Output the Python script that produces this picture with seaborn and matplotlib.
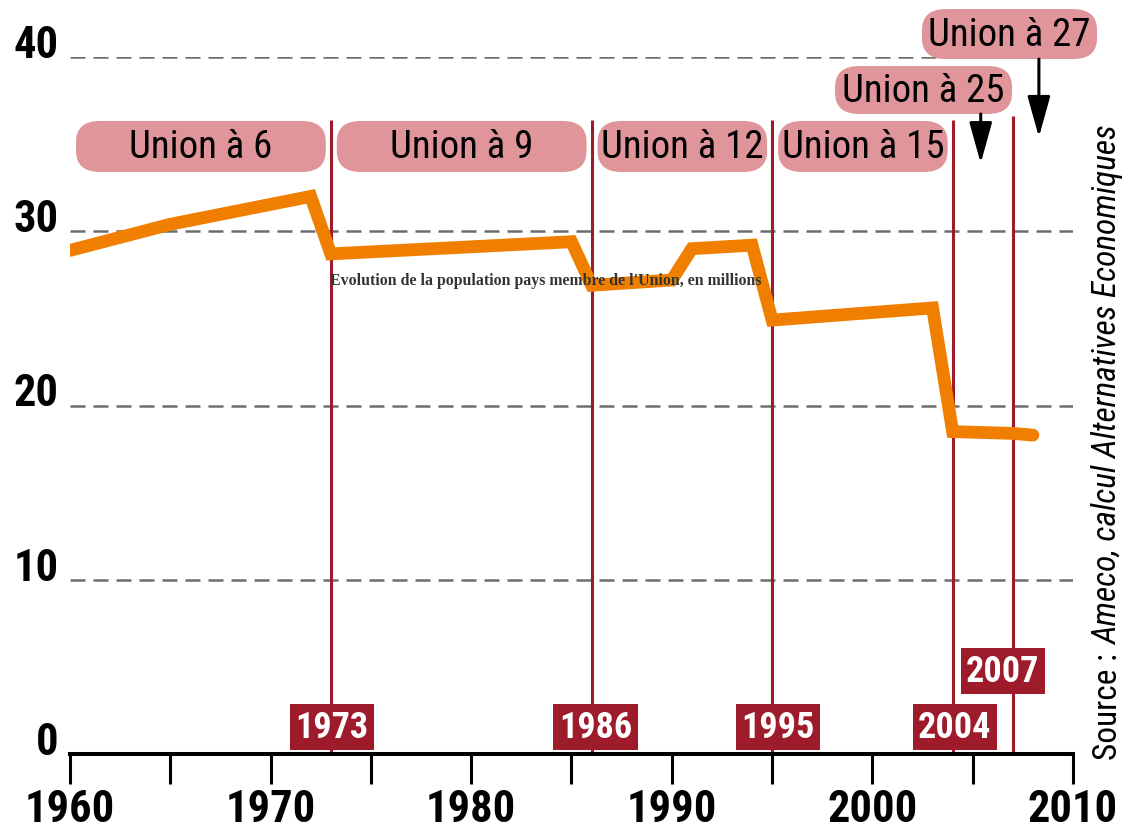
import matplotlib
matplotlib.use('Agg')
import matplotlib.pyplot as plt
import seaborn as sns
from matplotlib import font_manager
from matplotlib.patches import FancyBboxPatch, Rectangle
from matplotlib.ticker import MultipleLocator

# Population of the average EU member state, in millions
years = [1960, 1965, 1972, 1973, 1985, 1986, 1990, 1991, 1994, 1995, 2003, 2004, 2007, 2008]
population = [28.9, 30.4, 32.0, 28.7, 29.4, 26.9, 27.2, 29.0, 29.2, 24.9, 25.6, 18.5, 18.4, 18.3]

# Enlargements and the union size that follows
enlargement_years = [1973, 1986, 1995, 2004, 2007]
period_starts = [1960, 1973, 1986, 1995, 2004, 2007]
union_labels = ['Union à 6', 'Union à 9', 'Union à 12', 'Union à 15', 'Union à 25', 'Union à 27']

y_ticks = [0, 10, 20, 30, 40]
x_labels = [1960, 1970, 1980, 1990, 2000, 2010]

title = "Evolution de la population pays membre de l'Union, en millions"
source_plain = 'Source : '
source_italic = 'Ameco, calcul Alternatives Economiques'


def pick_font(names):
    for n in names:
        try:
            font_manager.findfont(n, fallback_to_default=False)
            return n
        except ValueError:
            pass
    return 'DejaVu Sans'


sns.set_theme(style='white')
narrow = pick_font(['Liberation Sans Narrow', 'Arial Narrow', 'Roboto Condensed', 'DejaVu Sans'])
plt.rcParams['font.family'] = [narrow, 'DejaVu Sans']
plt.rcParams['text.color'] = 'black'
plt.rcParams['xtick.color'] = 'black'
plt.rcParams['ytick.color'] = 'black'

RED = '#9e1b2c'
PINK = '#e0959a'
ORANGE = '#f07f00'

fig = plt.figure(figsize=(11.24, 8.29), dpi=100)
ax = fig.add_axes([70 / 1124, 74 / 829, 1003 / 1124, 697 / 829])
ax.set_xlim(1960, 2010)
ax.set_ylim(0, 40)
ax.set_axisbelow(True)

# main line
sns.lineplot(x=years, y=population, ax=ax, color=ORANGE, lw=9.2,
             solid_capstyle='round', solid_joinstyle='miter', zorder=3)

# enlargement markers
tops = [36.4, 36.4, 36.4, 36.4, 36.6]
ax.vlines(enlargement_years, 0, tops, color=RED, lw=2.2, zorder=2)

# grid / axes
ax.set_yticks(y_ticks)
ax.set_yticklabels([str(v) for v in y_ticks], fontsize=32, fontweight='bold', color='black')
for lbl in ax.get_yticklabels():
    lbl.set_va('baseline')
ax.tick_params(axis='y', length=0, pad=8)
ax.grid(axis='y', color='#6e6e6e', lw=1.8, linestyle=(0, (6, 3.2)))
ax.grid(axis='x', visible=False)

ax.xaxis.set_major_locator(MultipleLocator(10))
ax.xaxis.set_minor_locator(MultipleLocator(5))
ax.set_xticks(x_labels)
ax.set_xticklabels([str(v) for v in x_labels], fontsize=32, fontweight='bold', color='black')
ax.tick_params(axis='x', which='both', direction='out', length=21.6, width=2.2,
               color='black', pad=3, bottom=True)
for side in ['top', 'right', 'left']:
    ax.spines[side].set_visible(False)
ax.spines['bottom'].set_linewidth(2.9)
ax.spines['bottom'].set_color('black')
ax.set_xlabel('')
ax.set_ylabel('')

# union size boxes, first row spans each period
for i in range(4):
    x0 = period_starts[i] + 0.3
    x1 = period_starts[i + 1] - 0.25
    ax.add_patch(FancyBboxPatch((x0, 33.4), x1 - x0, 2.93,
                                boxstyle='round,pad=0,rounding_size=1.2',
                                fc=PINK, ec='none', zorder=4, clip_on=False))
    ax.text((x0 + x1) / 2, 34.87, union_labels[i], ha='center', va='center',
            fontsize=28, color='black', zorder=5)

# later unions placed above
upper = [(1998.14, 2006.96, 36.73, 39.48, 2005.4, 33.9),
         (2002.47, 2011.2, 39.88, 42.75, 2008.3, 35.4)]
for lbl, (x0, x1, y0, y1, ax_x, ax_y) in zip(union_labels[4:], upper):
    ax.add_patch(FancyBboxPatch((x0, y0), x1 - x0, y1 - y0,
                                boxstyle='round,pad=0,rounding_size=1.2',
                                fc=PINK, ec='none', zorder=4, clip_on=False))
    ax.text((x0 + x1) / 2, (y0 + y1) / 2, lbl, ha='center', va='center',
            fontsize=28, color='black', zorder=5, clip_on=False)
    ax.annotate('', xy=(ax_x, ax_y), xytext=(ax_x, y0),
                arrowprops=dict(arrowstyle='-|>,head_length=0.9,head_width=0.25',
                                color='black', lw=2.2,
                                mutation_scale=28, shrinkA=0, shrinkB=0),
                zorder=5, annotation_clip=False)

# year tags
tag_pos = [(1973.05, 1.55), (1986.2, 1.55), (1995.3, 1.55), (2004.1, 1.55), (2006.5, 4.76)]
for yr, (tx, ty) in zip(enlargement_years, tag_pos):
    ax.add_patch(Rectangle((tx - 2.1, ty - 1.32), 4.2, 2.64, fc=RED, ec='none', zorder=4))
    ax.text(tx, ty, str(yr), ha='center', va='center', fontsize=26,
            fontweight='bold', color='white', zorder=5)

ax.text(1983.7, 27.2, title, ha='center', va='center', fontsize=11.4,
        fontweight='bold', color='#333333', family=['Liberation Serif', 'DejaVu Serif'],
        zorder=6)

# source, rotated on the right
t1 = fig.text(1108 / 1124, 69 / 829, source_plain, rotation=90, ha='center', va='bottom',
              fontsize=24, color='black')
fig.canvas.draw()
ext = t1.get_window_extent()
fig.text(1108 / 1124, ext.y1 / fig.bbox.height, source_italic, rotation=90, ha='center',
         va='bottom', fontsize=24, style='italic', color='black')

fig.savefig('out.png', dpi=100)
